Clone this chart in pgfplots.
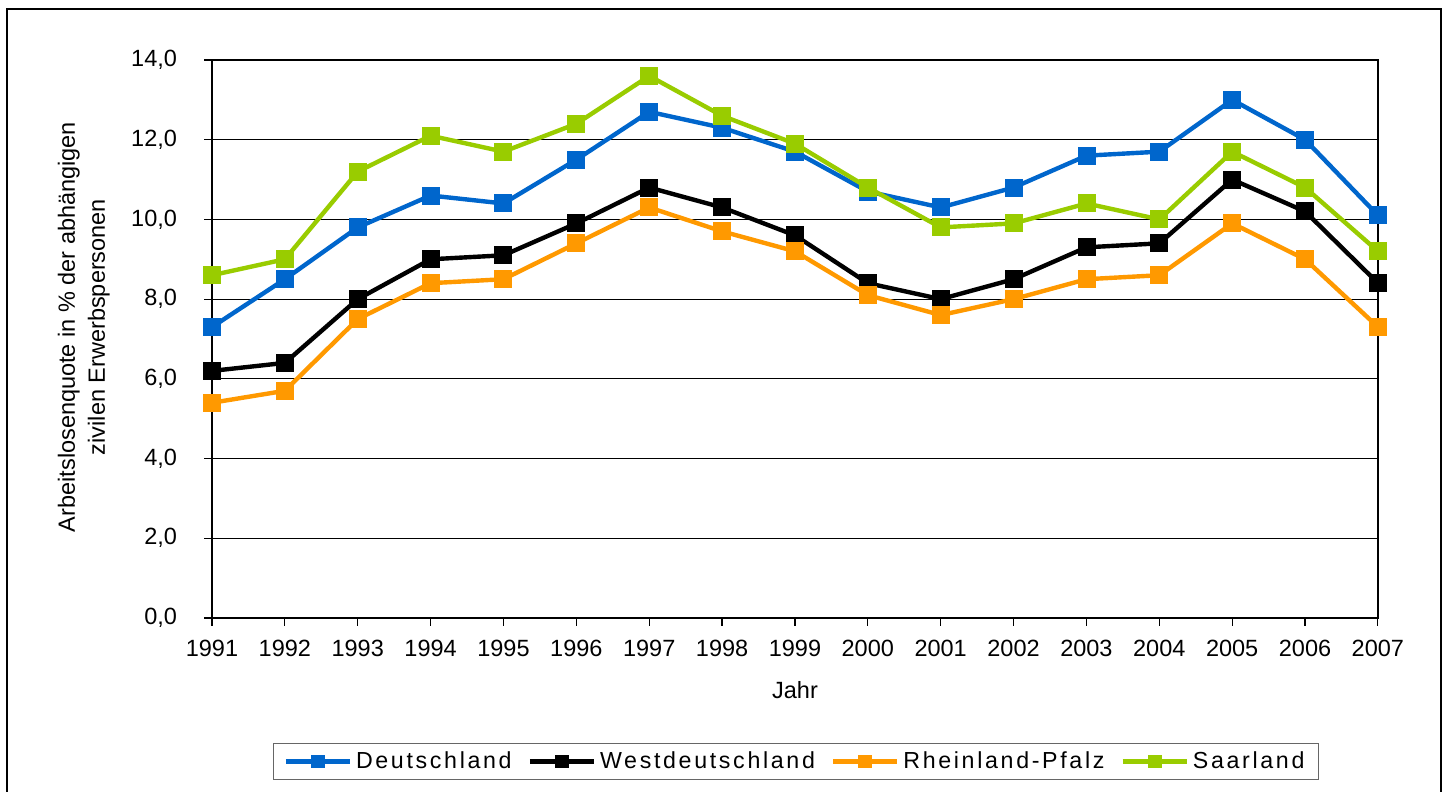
\documentclass[border=0pt]{standalone}
\usepackage{fontspec}
\setmainfont{Liberation Sans}
\newfontfamily\legfont[LetterSpace=11.5]{Liberation Sans}
\usepackage{pgfplots}
\pgfplotsset{compat=1.18}

\definecolor{cBlue}{RGB}{0,102,204}
\definecolor{cOrange}{RGB}{255,153,0}
\definecolor{cGreen}{RGB}{153,204,0}

\begin{document}
\begin{tikzpicture}[x=1pt,y=1pt]
\useasboundingbox (0,0) rectangle (724,396);
\draw[line width=0.9pt] (3.5,-2) -- (3.5,391.5) -- (720.5,391.5) -- (720.5,-2);
\begin{axis}[
  at={(106pt,87pt)}, anchor=south west,
  scale only axis, width=583pt, height=279pt,
  xmin=1991, xmax=2007, ymin=0, ymax=14,
  xtick={1991,...,2007}, ytick={0,2,...,14},
  ymajorgrids, grid style={black, line width=0.6pt},
  axis line style={black, line width=1.1pt},
  tick style={black, line width=0.6pt},
  tick align=outside, major tick length=4pt, tick pos=left,
  /pgf/number format/assume math mode=true,
  ticklabel style={font=\fontsize{11.75}{14}\selectfont},
  xticklabel style={/pgf/number format/1000 sep={}, yshift=-3.5pt},
  yticklabel style={/pgf/number format/.cd, fixed, fixed zerofill, precision=1, use comma, /tikz/.cd, xshift=-10pt},
  xlabel={Jahr},
  xlabel style={font=\fontsize{11.75}{14}\selectfont, at={(axis description cs:0.5,-0.129)}, anchor=center},
  ylabel={Arbeitslosenquote in \% der abhängigen\\zivilen Erwerbspersonen},
  ylabel style={font=\fontsize{11.75}{15}\selectfont, align=center, at={(axis description cs:-0.110,0.5215)}, anchor=center},
  every axis plot/.append style={line width=2.2pt, mark=square*, mark size=3.4pt, mark options={solid}},
  legend columns=4,
  legend style={at={(axis description cs:0.5009,-0.2572)}, anchor=center, draw=black!60, line width=0.6pt,
    font=\legfont\fontsize{11.6}{13.5}\selectfont, inner xsep=5pt, inner ysep=2pt,
    /tikz/every even column/.append style={column sep=6pt}},
  legend image code/.code={\draw[mark repeat=2,mark phase=2,#1, mark options={scale=0.7}] plot coordinates {(0pt,0pt) (16pt,0pt) (32pt,0pt)};},
]
\addplot[color=cBlue] coordinates {
(1991,7.3) (1992,8.5) (1993,9.8) (1994,10.6) (1995,10.4) (1996,11.5) (1997,12.7) (1998,12.3) (1999,11.7)
(2000,10.7) (2001,10.3) (2002,10.8) (2003,11.6) (2004,11.7) (2005,13.0) (2006,12.0) (2007,10.1)};
\addlegendentry{Deutschland}
\addplot[color=black] coordinates {
(1991,6.2) (1992,6.4) (1993,8.0) (1994,9.0) (1995,9.1) (1996,9.9) (1997,10.8) (1998,10.3) (1999,9.6)
(2000,8.4) (2001,8.0) (2002,8.5) (2003,9.3) (2004,9.4) (2005,11.0) (2006,10.2) (2007,8.4)};
\addlegendentry{Westdeutschland}
\addplot[color=cOrange] coordinates {
(1991,5.4) (1992,5.7) (1993,7.5) (1994,8.4) (1995,8.5) (1996,9.4) (1997,10.3) (1998,9.7) (1999,9.2)
(2000,8.1) (2001,7.6) (2002,8.0) (2003,8.5) (2004,8.6) (2005,9.9) (2006,9.0) (2007,7.3)};
\addlegendentry{Rheinland-Pfalz}
\addplot[color=cGreen] coordinates {
(1991,8.6) (1992,9.0) (1993,11.2) (1994,12.1) (1995,11.7) (1996,12.4) (1997,13.6) (1998,12.6) (1999,11.9)
(2000,10.8) (2001,9.8) (2002,9.9) (2003,10.4) (2004,10.0) (2005,11.7) (2006,10.8) (2007,9.2)};
\addlegendentry{Saarland}
\end{axis}
\end{tikzpicture}
\end{document}
